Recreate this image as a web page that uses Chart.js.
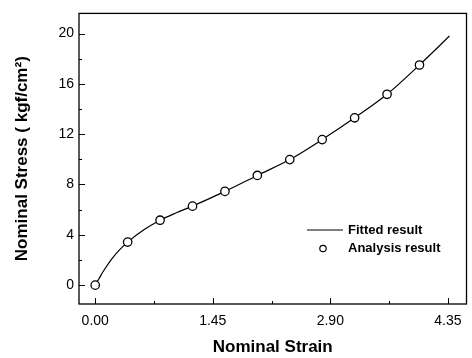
<!DOCTYPE html>
<html>
<head>
<meta charset="utf-8">
<script src="https://cdn.jsdelivr.net/npm/chart.js@4"></script>
<style>
  html, body { margin: 0; padding: 0; background: #fff; }
  #wrap { width: 472px; height: 358px; }
</style>
</head>
<body>
<div id="wrap"><canvas id="stressChart" width="472" height="358"></canvas></div>
<script>
// analysis result (circles)
const analysisStrain = [0, 0.4, 0.8, 1.2, 1.6, 2.0, 2.4, 2.8, 3.2, 3.6, 4.0];
const analysisStress = [0, 3.42, 5.16, 6.28, 7.45, 8.72, 9.98, 11.57, 13.3, 15.17, 17.5];

// fitted curve
const fittedStrain = [0, 0.05, 0.1, 0.2, 0.3, 0.4, 0.6, 0.8, 1.0, 1.2, 1.6, 2.0, 2.4, 2.8, 3.2, 3.6, 4.0, 4.37];
const fittedStress = [0, 0.55, 1.1, 2.05, 2.8, 3.42, 4.4, 5.16, 5.75, 6.28, 7.45, 8.72, 9.98, 11.57, 13.3, 15.17, 17.5, 19.8];

const xTicks = [0, 1.45, 2.9, 4.35];
const xMinor = [0.725, 2.175, 3.625];
const yTicks = [0, 4, 8, 12, 16, 20];
const yMinor = [2, 6, 10, 14, 18];

const seriesNames = ['Fitted result', 'Analysis result'];

const FONT = '"Liberation Sans", Arial, sans-serif';
const toXY = (xs, ys) => xs.map((x, i) => ({ x: x, y: ys[i] }));

// frame, inward ticks and the in-plot legend
const framePlugin = {
  id: 'frame',
  afterDraw(chart) {
    const ctx = chart.ctx;
    const a = chart.chartArea;
    const xs = chart.scales.x, ys = chart.scales.y;
    ctx.save();
    ctx.strokeStyle = '#000';
    ctx.lineWidth = 1.3;
    ctx.strokeRect(a.left, a.top, a.right - a.left, a.bottom - a.top);

    ctx.lineWidth = 1;
    ctx.beginPath();
    xTicks.forEach(v => { const p = Math.round(xs.getPixelForValue(v)) + 0.5; ctx.moveTo(p, a.bottom); ctx.lineTo(p, a.bottom - 6); });
    xMinor.forEach(v => { const p = Math.round(xs.getPixelForValue(v)) + 0.5; ctx.moveTo(p, a.bottom); ctx.lineTo(p, a.bottom - 3); });
    yTicks.forEach(v => { const p = Math.round(ys.getPixelForValue(v)) + 0.5; ctx.moveTo(a.left, p); ctx.lineTo(a.left + 6, p); });
    yMinor.forEach(v => { const p = Math.round(ys.getPixelForValue(v)) + 0.5; ctx.moveTo(a.left, p); ctx.lineTo(a.left + 3, p); });
    ctx.stroke();

    // legend
    const lx = 307, ly = 230;
    ctx.lineWidth = 1.2;
    ctx.beginPath();
    ctx.moveTo(lx, ly); ctx.lineTo(lx + 36, ly);
    ctx.stroke();
    ctx.beginPath();
    ctx.arc(lx + 16, ly + 18.5, 3.2, 0, Math.PI * 2);
    ctx.fillStyle = '#fff';
    ctx.fill();
    ctx.stroke();
    ctx.fillStyle = '#000';
    ctx.font = '600 13px ' + FONT;
    ctx.textBaseline = 'middle';
    ctx.textAlign = 'left';
    ctx.fillText(seriesNames[0], lx + 41, ly);
    ctx.fillText(seriesNames[1], lx + 41, ly + 18.5);
    ctx.restore();
  }
};

const ctx = document.getElementById('stressChart').getContext('2d');
new Chart(ctx, {
  type: 'scatter',
  data: {
    datasets: [{
      label: seriesNames[0],
      data: toXY(fittedStrain, fittedStress),
      showLine: true,
      borderColor: '#000',
      borderWidth: 1.2,
      pointRadius: 0,
      cubicInterpolationMode: 'monotone',
      fill: false,
      order: 2
    }, {
      label: seriesNames[1],
      data: toXY(analysisStrain, analysisStress),
      showLine: false,
      pointStyle: 'circle',
      pointRadius: 4.2,
      pointBorderWidth: 1.3,
      pointBorderColor: '#000',
      pointBackgroundColor: '#fff',
      order: 1
    }]
  },
  options: {
    responsive: false,
    animation: false,
    events: [],
    layout: { padding: { top: 7, right: 4, left: 0, bottom: 0 } },
    plugins: {
      legend: { display: false },
      tooltip: { enabled: false }
    },
    scales: {
      x: {
        type: 'linear',
        min: -0.2,
        max: 4.58,
        afterBuildTicks: s => { s.ticks = xTicks.map(v => ({ value: v })); },
        afterFit: s => { s.height = 54; },
        grid: { display: false, drawTicks: false },
        border: { display: false },
        ticks: {
          color: '#000',
          padding: 9,
          maxRotation: 0,
          font: { family: FONT, size: 14 },
          callback: v => v.toFixed(2)
        },
        title: {
          display: true,
          text: 'Nominal Strain',
          color: '#000',
          padding: { top: 4, bottom: 0 },
          font: { family: FONT, size: 17, weight: 'bold' }
        }
      },
      y: {
        type: 'linear',
        min: -1.5,
        max: 21.6,
        afterBuildTicks: s => { s.ticks = yTicks.map(v => ({ value: v })); },
        afterFit: s => { s.width = 79; },
        grid: { display: false, drawTicks: false },
        border: { display: false },
        ticks: {
          color: '#000',
          padding: 5,
          font: { family: FONT, size: 14 }
        },
        title: {
          display: true,
          text: 'Nominal Stress ( kgf/cm\u00b2)',
          color: '#000',
          padding: { top: 12, bottom: 0 },
          font: { family: FONT, size: 17, weight: 'bold' }
        }
      }
    }
  },
  plugins: [framePlugin]
});
</script>
</body>
</html>
